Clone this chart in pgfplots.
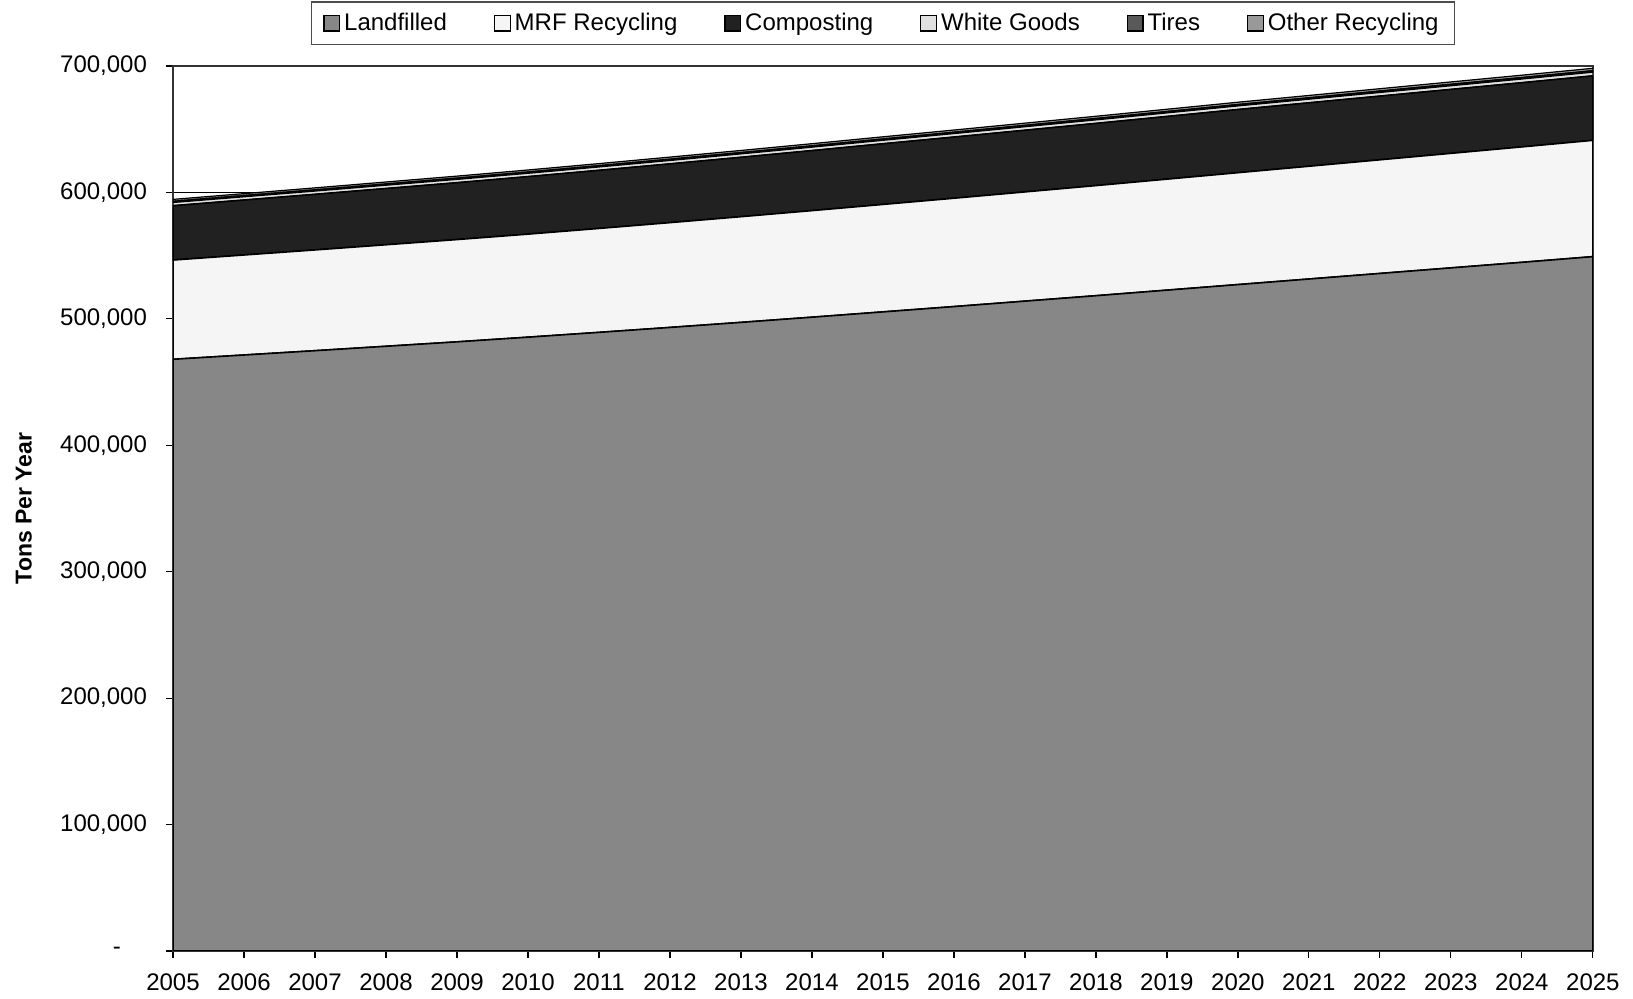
\documentclass[border=0pt]{standalone}
\usepackage{pgfplots}
\usepackage{pgfplotstable}
\pgfplotsset{compat=1.18}
\usepackage{fontspec}
\setmainfont{Liberation Sans}

\pgfplotstableread{
year land mrf comp white tires other
2005 468000 78500 43000 2500 1000 1500
2006 471400 79100 43500 2520 1010 1520
2007 474800 79700 44000 2540 1020 1540
2008 478300 80300 44500 2560 1030 1560
2009 481800 80900 45000 2580 1040 1580
2010 485500 81500 45500 2600 1050 1600
2011 489300 82200 46000 2620 1060 1620
2012 493200 82900 46500 2640 1070 1640
2013 497200 83600 47000 2660 1080 1660
2014 501300 84300 47500 2680 1090 1680
2015 505500 85000 48000 2700 1100 1700
2016 509700 85700 48400 2720 1110 1720
2017 514000 86400 48800 2740 1120 1740
2018 518300 87100 49200 2760 1130 1760
2019 522700 87800 49600 2780 1140 1780
2020 527100 88500 50000 2800 1150 1800
2021 531500 89200 50200 2820 1160 1820
2022 535900 89900 50400 2840 1170 1840
2023 540300 90600 50600 2860 1180 1860
2024 544700 91300 50800 2880 1190 1880
2025 549200 92000 51000 2900 1200 1900
}\datatable

\begin{document}
\begin{tikzpicture}
\begin{axis}[
  scale only axis,
  width=710pt, height=442.5pt,
  xmin=2005, xmax=2025, ymin=0, ymax=700000,
  stack plots=y,
  xtick={2005,...,2025},
  ytick={0,100000,200000,300000,400000,500000,600000,700000},
  yticklabels={{-\rule{13pt}{0pt}},{100,000},{200,000},{300,000},{400,000},{500,000},{600,000},{700,000}},
  scaled y ticks=false,
  x tick label style={/pgf/number format/1000 sep=, /pgf/number format/assume math mode=true, yshift=-4.5pt},
  y tick label style={xshift=-6pt},
  tick align=outside, xtick pos=bottom, ytick pos=left,
  major tick length=3.5pt,
  ymajorgrids, grid style={black, line width=0.5pt},
  axis line style={black!80, line width=0.8pt},
  tick style={black, line width=0.6pt},
  font=\fontsize{12}{14}\selectfont,
  ylabel={\fontsize{11.5}{13}\selectfont\bfseries Tons Per Year},
  ylabel style={at={(axis description cs:-0.105,0.5)}, anchor=center},
  legend columns=6,
  legend style={at={(0.5,1)}, anchor=south, yshift=10.5pt, draw=black!70, line width=0.6pt,
    font=\fontsize{12}{14}\selectfont, inner xsep=6pt, inner ysep=3.5pt,
    /tikz/every even column/.append style={column sep=21.5pt}},
  legend cell align=left,
  legend image code/.code={\draw[#1, draw=black, line width=0.6pt] (0pt,-3.9pt) rectangle (7.8pt,3.9pt);},
]
\addplot[fill=black!47, draw=black, line width=0.8pt] table[x=year,y=land]{\datatable} \closedcycle;
\addlegendentry{Landfilled}
\addplot[fill=black!4, draw=black, line width=0.8pt] table[x=year,y=mrf]{\datatable} \closedcycle;
\addlegendentry{MRF Recycling}
\addplot[fill=black!87, draw=black, line width=0.8pt] table[x=year,y=comp]{\datatable} \closedcycle;
\addlegendentry{Composting}
\addplot[fill=black!12, draw=black, line width=0.6pt] table[x=year,y=white]{\datatable} \closedcycle;
\addlegendentry{White Goods}
\addplot[fill=black!65, draw=black, line width=0.6pt] table[x=year,y=tires]{\datatable} \closedcycle;
\addlegendentry{Tires}
\addplot[fill=black!40, draw=black, line width=0.6pt] table[x=year,y=other]{\datatable} \closedcycle;
\addlegendentry{Other Recycling}
\end{axis}
\path (current axis.south west) ++(-86.5pt,-24pt) rectangle ++(816.5pt,499.5pt);
\end{tikzpicture}
\end{document}
